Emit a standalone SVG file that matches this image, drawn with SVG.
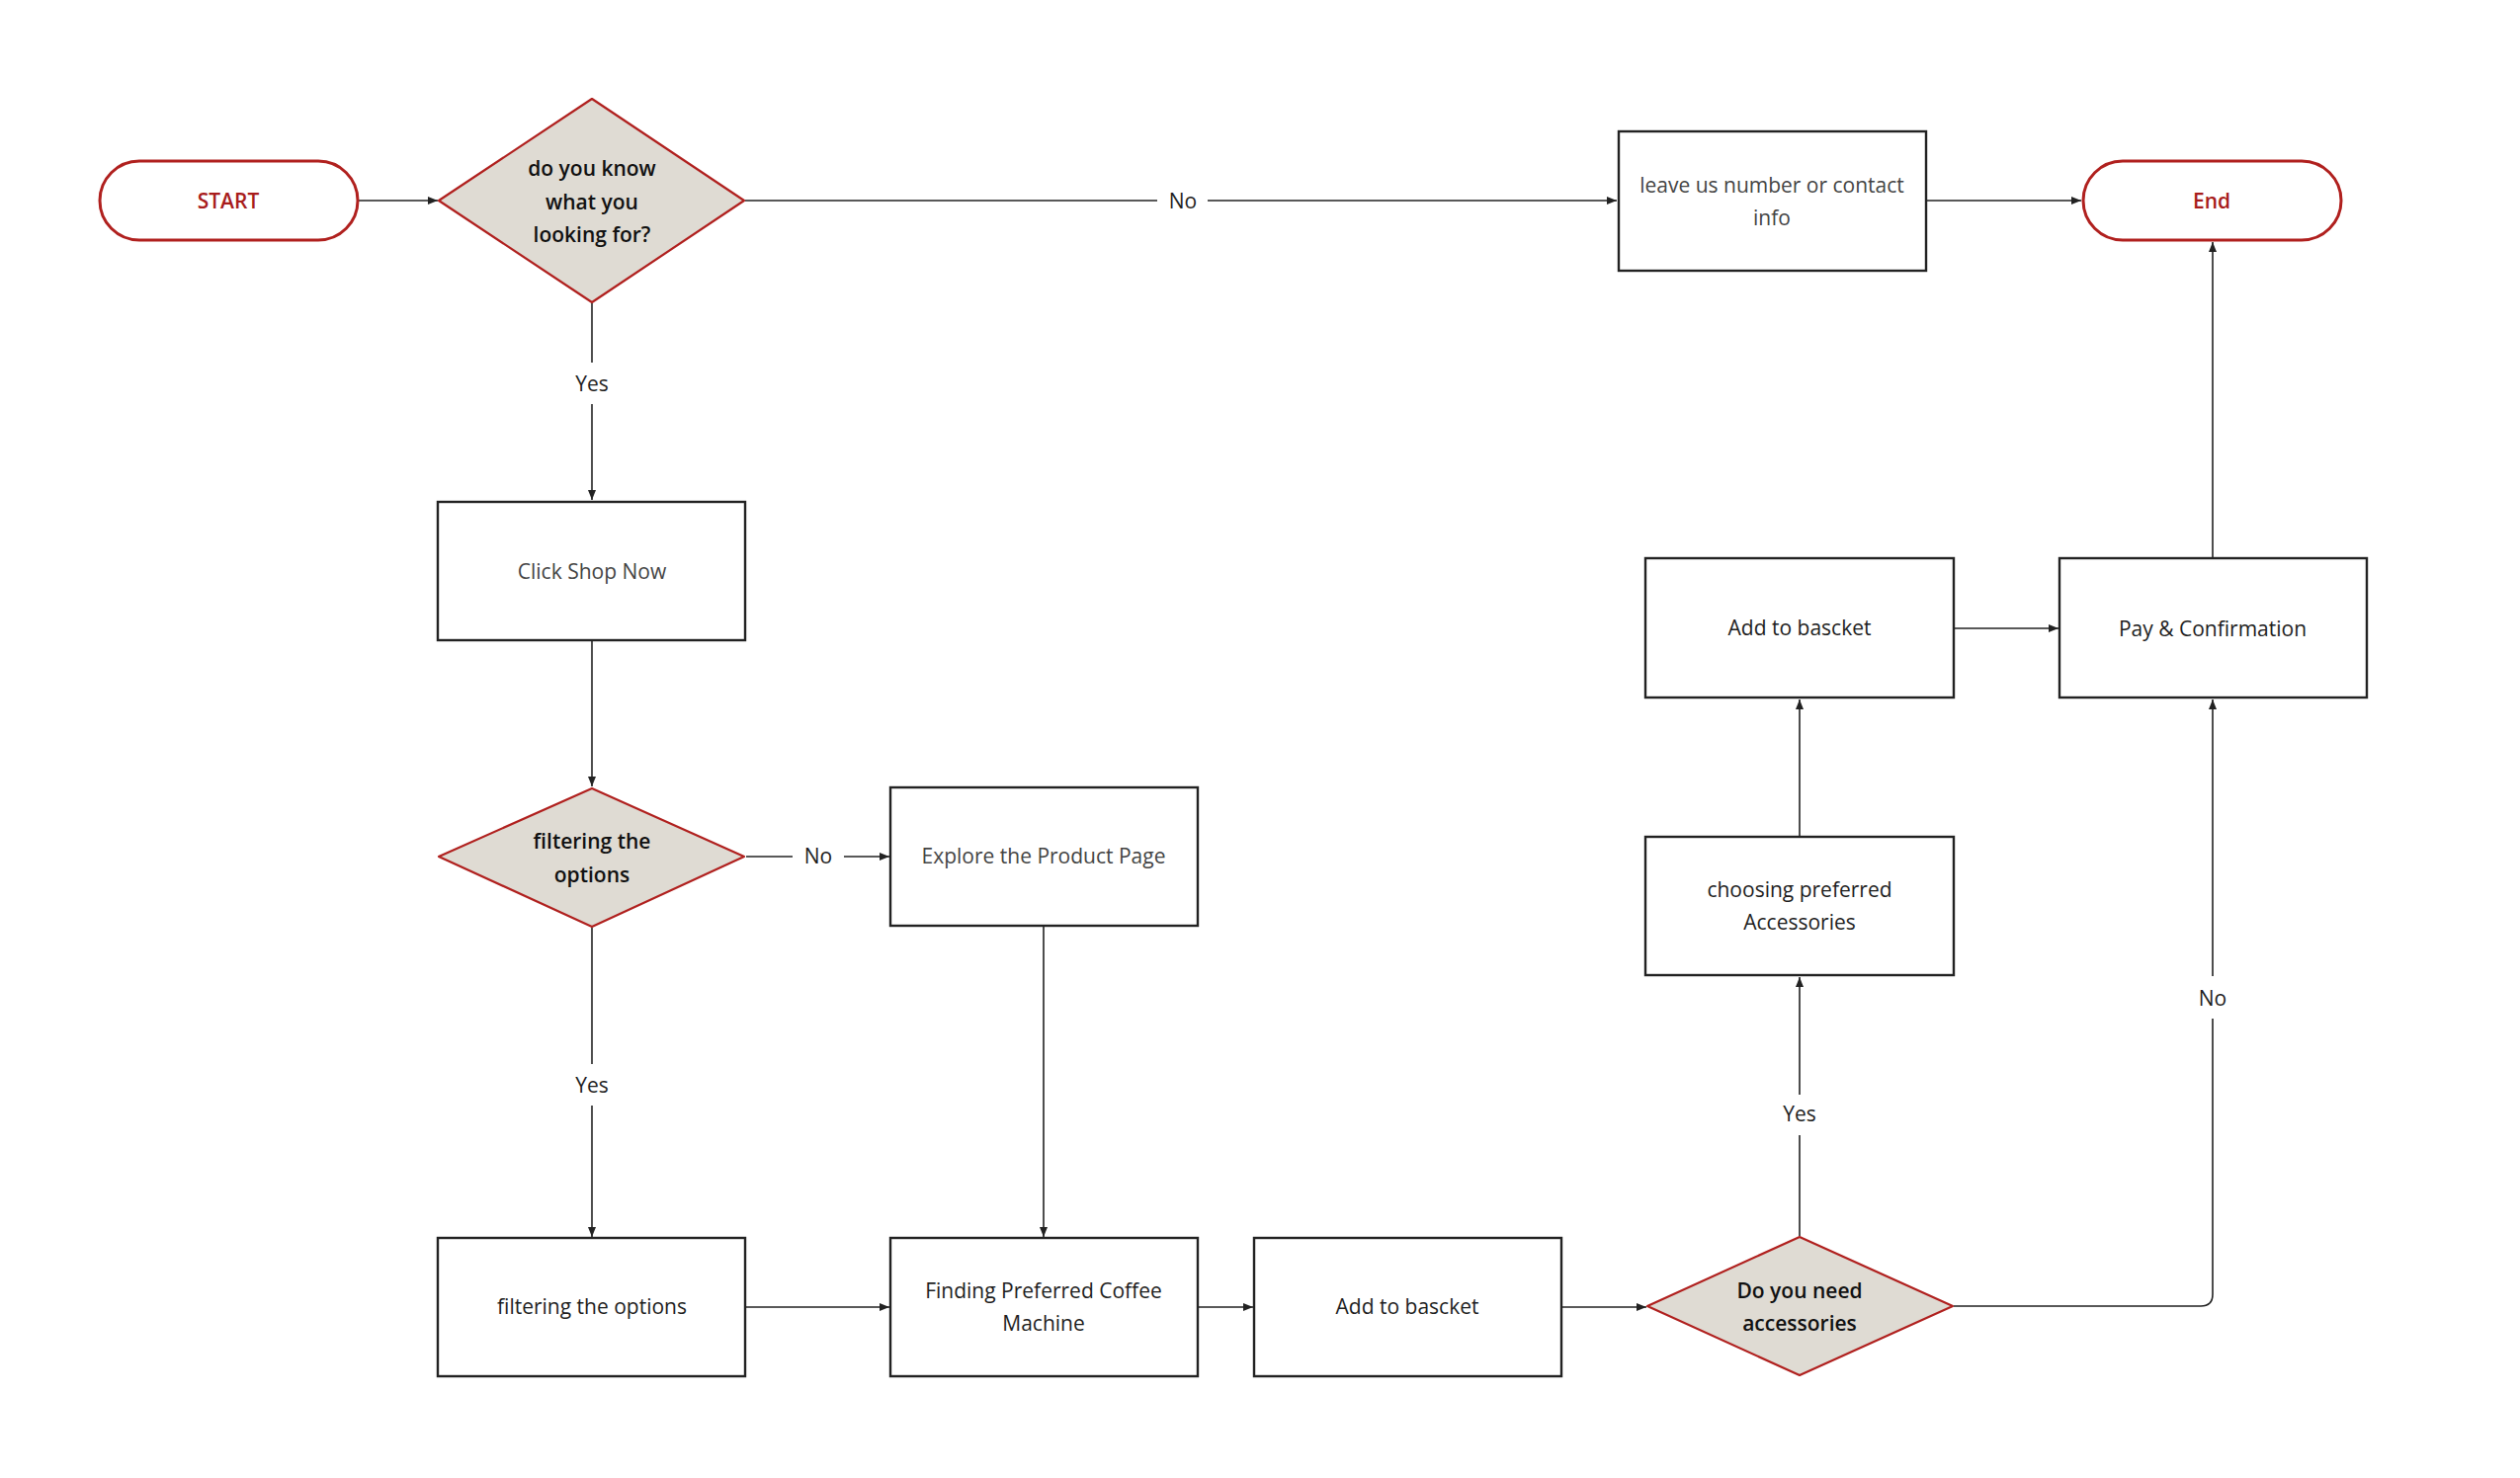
<svg xmlns="http://www.w3.org/2000/svg" width="2550" height="1496" viewBox="0 0 2550 1496">
<defs>
<style>
.box{fill:#ffffff;stroke:#222222;stroke-width:2.4}
.dia{fill:#dfdbd3;stroke:#b0201e;stroke-width:2.2;stroke-linejoin:round}
.pill{fill:#ffffff;stroke:#b0201e;stroke-width:3}
.t{font-family:"Open Sans","Noto Sans","Liberation Sans",sans-serif;font-size:21px;text-anchor:middle;fill:#1e1e1e}
.g{fill:#444444}
.b{font-weight:600;fill:#111111}
.r{font-weight:600;fill:#a81c1c}
.c{fill:none;stroke:#222222;stroke-width:1.6}
</style>
<marker id="ah" markerUnits="userSpaceOnUse" markerWidth="12" markerHeight="10" refX="10" refY="5" orient="auto">
<path d="M0,1 L10,5 L0,9 Z" fill="#222222"/>
</marker>
</defs>
<rect x="0" y="0" width="2550" height="1496" fill="#ffffff"/>

<g id="connectors">
<line class="c" x1="362" y1="203" x2="443" y2="203" marker-end="url(#ah)"/>
<line class="c" x1="754" y1="203" x2="1171" y2="203"/>
<line class="c" x1="1222" y1="203" x2="1636" y2="203" marker-end="url(#ah)"/>
<line class="c" x1="1949" y1="203" x2="2106" y2="203" marker-end="url(#ah)"/>
<line class="c" x1="599" y1="307" x2="599" y2="367"/>
<line class="c" x1="599" y1="409" x2="599" y2="506" marker-end="url(#ah)"/>
<line class="c" x1="599" y1="649" x2="599" y2="796" marker-end="url(#ah)"/>
<line class="c" x1="755" y1="867" x2="802" y2="867"/>
<line class="c" x1="854" y1="867" x2="900" y2="867" marker-end="url(#ah)"/>
<line class="c" x1="599" y1="939" x2="599" y2="1077"/>
<line class="c" x1="599" y1="1119" x2="599" y2="1252" marker-end="url(#ah)"/>
<line class="c" x1="1056" y1="938" x2="1056" y2="1252" marker-end="url(#ah)"/>
<line class="c" x1="754" y1="1323" x2="900" y2="1323" marker-end="url(#ah)"/>
<line class="c" x1="1212" y1="1323" x2="1268" y2="1323" marker-end="url(#ah)"/>
<line class="c" x1="1580" y1="1323" x2="1666" y2="1323" marker-end="url(#ah)"/>
<line class="c" x1="1821" y1="1251" x2="1821" y2="1149"/>
<line class="c" x1="1821" y1="1108" x2="1821" y2="989" marker-end="url(#ah)"/>
<line class="c" x1="1821" y1="847" x2="1821" y2="708" marker-end="url(#ah)"/>
<line class="c" x1="1977" y1="636" x2="2083" y2="636" marker-end="url(#ah)"/>
<path class="c" d="M1977,1322 H2227 Q2239,1322 2239,1310 V1031"/>
<line class="c" x1="2239" y1="988" x2="2239" y2="708" marker-end="url(#ah)"/>
<line class="c" x1="2239" y1="565" x2="2239" y2="245" marker-end="url(#ah)"/>
<text class="t" x="599" y="396">Yes</text>
<text class="t" x="1197" y="211">No</text>
<text class="t" x="828" y="874">No</text>
<text class="t" x="599" y="1106">Yes</text>
<text class="t" x="1821" y="1135">Yes</text>
<text class="t" x="2239" y="1018">No</text>
</g>

<g id="start">
<rect class="pill" x="101" y="163" width="261" height="80" rx="40" ry="40"/>
<text class="t r" x="231" y="211">START</text>
</g>

<g id="decision-know">
<polygon class="dia" points="599,100 753,203 599,306 444,203"/>
<text class="t b" x="599" y="178">do you know</text>
<text class="t b" x="599" y="212">what you</text>
<text class="t b" x="599" y="245">looking for?</text>
</g>

<g id="leave-info">
<rect class="box" x="1638" y="133" width="311" height="141"/>
<text class="t g" x="1793" y="195">leave us number or contact</text>
<text class="t g" x="1793" y="228">info</text>
</g>

<g id="end">
<rect class="pill" x="2108" y="163" width="261" height="80" rx="40" ry="40"/>
<text class="t r" x="2238" y="211">End</text>
</g>

<g id="click-shop">
<rect class="box" x="443" y="508" width="311" height="140"/>
<text class="t g" x="599" y="586">Click Shop Now</text>
</g>

<g id="decision-filter">
<polygon class="dia" points="599,798 753,867 599,938 444,867"/>
<text class="t b" x="599" y="859">filtering the</text>
<text class="t b" x="599" y="893">options</text>
</g>

<g id="explore">
<rect class="box" x="901" y="797" width="311" height="140"/>
<text class="t g" x="1056" y="874">Explore the Product Page</text>
</g>

<g id="filter-options">
<rect class="box" x="443" y="1253" width="311" height="140"/>
<text class="t" x="599" y="1330">filtering the options</text>
</g>

<g id="finding">
<rect class="box" x="901" y="1253" width="311" height="140"/>
<text class="t" x="1056" y="1314">Finding Preferred Coffee</text>
<text class="t" x="1056" y="1347">Machine</text>
</g>

<g id="add-basket-1">
<rect class="box" x="1269" y="1253" width="311" height="140"/>
<text class="t" x="1424" y="1330">Add to bascket</text>
</g>

<g id="decision-accessories">
<polygon class="dia" points="1821,1252 1976,1322 1821,1392 1667,1322"/>
<text class="t b" x="1821" y="1314">Do you need</text>
<text class="t b" x="1821" y="1347">accessories</text>
</g>

<g id="choosing">
<rect class="box" x="1665" y="847" width="312" height="140"/>
<text class="t" x="1821" y="908">choosing preferred</text>
<text class="t" x="1821" y="941">Accessories</text>
</g>

<g id="add-basket-2">
<rect class="box" x="1665" y="565" width="312" height="141"/>
<text class="t" x="1821" y="643">Add to bascket</text>
</g>

<g id="pay">
<rect class="box" x="2084" y="565" width="311" height="141"/>
<text class="t" x="2239" y="644">Pay &amp; Confirmation</text>
</g>
</svg>
